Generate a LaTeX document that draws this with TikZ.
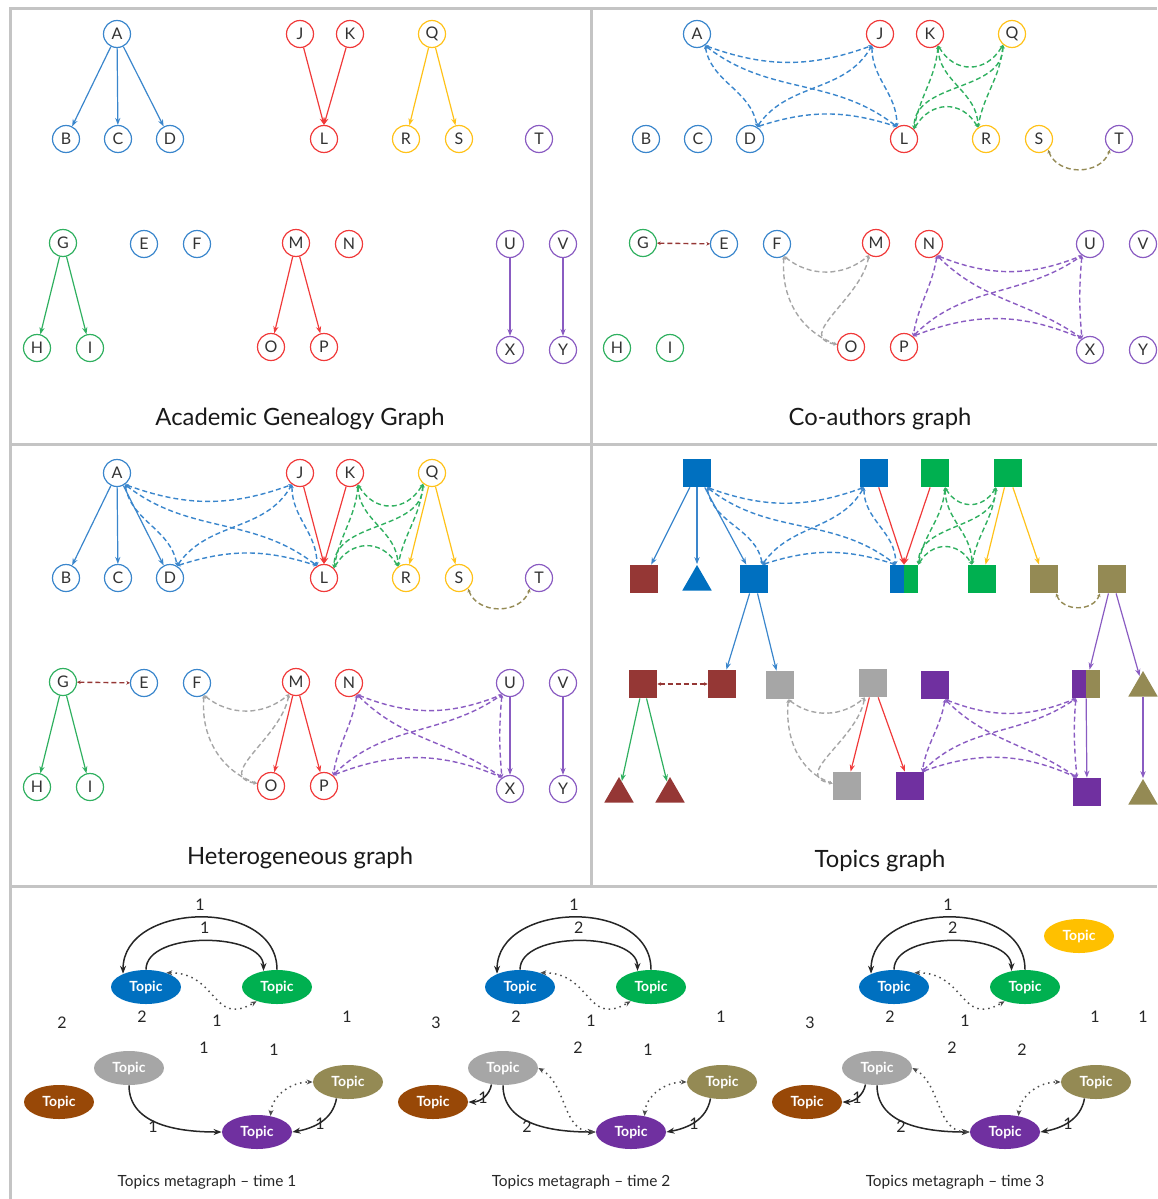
\documentclass[tikz,border=0pt]{standalone}
\usepackage{fontspec}
\setmainfont{Lato}
\usetikzlibrary{arrows.meta,shapes.geometric}

% colours of the author circles and their links
\definecolor{cblue}{HTML}{3A86CC}
\definecolor{cred}{HTML}{F03A3A}
\definecolor{cyellow}{HTML}{FFC21A}
\definecolor{cgreen}{HTML}{30B060}
\definecolor{cpurple}{HTML}{8A5CC2}
\definecolor{colive}{HTML}{948A54}
\definecolor{cbrown}{HTML}{953735}
\definecolor{cgrey}{HTML}{A6A6A6}
% colours of the topics
\definecolor{tblue}{HTML}{0070C0}
\definecolor{tgreen}{HTML}{00B050}
\definecolor{tpurple}{HTML}{7030A0}
\definecolor{torange}{HTML}{984807}
\definecolor{tyellow}{HTML}{FFC000}
\definecolor{panelline}{HTML}{C4C4C4}

\tikzset{
  author/.style={circle, draw, line width=0.6pt, minimum size=13.5pt, inner sep=0pt,
    fill=white, text=black!80, font=\fontsize{8}{9}\selectfont},
  advises/.style={-{Stealth[length=3.5pt,width=2.6pt]}, line width=0.6pt},
  coauth/.style={dash pattern=on 2.5pt off 1.5pt, line width=0.7pt,
    arrows={Stealth[length=1.8pt,width=1.8pt]-Stealth[length=1.8pt,width=1.8pt]}},
  topicsq/.style={rectangle, minimum size=14pt, inner sep=0pt},
  topictri/.style={regular polygon, regular polygon sides=3, minimum size=17pt, inner sep=0pt},
  halfsq/.style 2 args={topicsq, fill=#2, path picture={
    \fill[#1] (path picture bounding box.south west) rectangle (path picture bounding box.north);}},
  metatopic/.style={ellipse, minimum width=35pt, minimum height=17pt, inner sep=0pt,
    text=white, font=\bfseries\fontsize{7}{8}\selectfont},
  metaedge/.style={-{Stealth[length=4pt,width=3pt]}, line width=0.75pt, black!85},
  metadot/.style={dotted, line width=0.75pt, black!70,
    arrows={Stealth[length=3pt,width=2.5pt]-Stealth[length=3pt,width=2.5pt]}},
  weight/.style={text=black!85, font=\fontsize{8}{9}\selectfont},
  paneltitle/.style={text=black!90, font=\fontsize{11.9}{13}\selectfont},
  metacaption/.style={text=black!85, font=\fontsize{7.7}{9}\selectfont},
}

\begin{document}
\begin{tikzpicture}[x=0.5pt,y=-0.5pt]
  \useasboundingbox (0,0) rectangle (1157,1199);

  % PANEL FRAME
  \draw[panelline, line width=1.5pt] (10,1199) -- (10,8) -- (1157,8);
  \draw[panelline, line width=1.5pt] (591,8) -- (591,886);
  \draw[panelline, line width=1.5pt] (10,444) -- (1157,444);
  \draw[panelline, line width=1.5pt] (10,886) -- (1157,886);

  % AUTHORS: genealogy (g), co-authors (c), heterogeneous (h)
  \foreach \n/\x/\y/\col in {A/117/34/cblue, B/66/139/cblue, C/118/139/cblue, D/170/139/cblue,
      J/300/34/cred, K/350/34/cred, L/324/139/cred, Q/432/34/cyellow, R/406/139/cyellow,
      S/459/139/cyellow, T/539/139/cpurple, G/63/243/cgreen, E/144/244/cblue,
      F/197/244/cblue, M/296/243/cred, N/349/244/cred, O/271/347/cred, P/324/347/cred,
      U/510/244/cpurple, V/563/244/cpurple, H/37/348/cgreen, I/90/348/cgreen,
      X/510/350/cpurple, Y/563/350/cpurple}{
    \node[author, draw=\col] (g\n) at (\x,\y) {\n};
    \node[author, draw=\col] (c\n) at (\x+580,\y) {\n};
    \node[author, draw=\col] (h\n) at (\x,\y+439) {\n};
  }

  % TOPICS (t)
  \node[topicsq, fill=tblue]   (tA) at (697,473) {};
  \node[topicsq, fill=tblue]   (tJ) at (874,473) {};
  \node[topicsq, fill=tgreen]  (tK) at (935,473) {};
  \node[topicsq, fill=tgreen]  (tQ) at (1008,473) {};
  \node[topicsq, fill=cbrown]  (tB) at (644,579) {};
  \node[topictri, fill=tblue]  (tC) at (697,582) {};
  \node[topicsq, fill=tblue]   (tD) at (754,579) {};
  \node[halfsq={tblue}{tgreen}] (tL) at (904,579) {};
  \node[topicsq, fill=tgreen]  (tR) at (982,579) {};
  \node[topicsq, fill=colive]  (tS) at (1044,579) {};
  \node[topicsq, fill=colive]  (tT) at (1112,579) {};
  \node[topicsq, fill=cbrown]  (tG) at (643,684) {};
  \node[topicsq, fill=cbrown]  (tE) at (722,684) {};
  \node[topicsq, fill=cgrey]   (tF) at (780,685) {};
  \node[topicsq, fill=cgrey]   (tM) at (873,683) {};
  \node[topicsq, fill=tpurple] (tN) at (935,685) {};
  \node[halfsq={tpurple}{colive}] (tU) at (1086,684) {};
  \node[topictri, fill=colive] (tV) at (1143,688) {};
  \node[topictri, fill=cbrown] (tH) at (619,794) {};
  \node[topictri, fill=cbrown] (tI) at (670,794) {};
  \node[topicsq, fill=cgrey]   (tO) at (847,786) {};
  \node[topicsq, fill=tpurple] (tP) at (910,786) {};
  \node[topicsq, fill=tpurple] (tX) at (1087,792) {};
  \node[topictri, fill=colive] (tY) at (1143,796) {};

  % ADVISOR -> STUDENT
  \foreach \p in {g,h,t}{
    \draw[advises, cblue] (\p A) -- (\p B);
    \draw[advises, cblue] (\p A) -- (\p C);
    \draw[advises, cblue] (\p A) -- (\p D);
    \draw[advises, cred] (\p J) -- (\p L.north);
    \draw[advises, cred] (\p K) -- (\p L.north);
    \draw[advises, cyellow] (\p Q) -- (\p R);
    \draw[advises, cyellow] (\p Q) -- (\p S);
    \draw[advises, cgreen] (\p G) -- (\p H);
    \draw[advises, cgreen] (\p G) -- (\p I);
    \draw[advises, cred] (\p M) -- (\p O);
    \draw[advises, cred] (\p M) -- (\p P);
    \draw[advises, cpurple] (\p U) -- (\p X);
    \draw[advises, cpurple] (\p V) -- (\p Y);
  }
  \draw[advises, cblue] (tD) -- (tE);
  \draw[advises, cblue] (tD) -- (tF);
  \draw[advises, cpurple] (tT) -- (tU);
  \draw[advises, cpurple] (tT) -- (tV);

  % CO-AUTHORSHIP
  \foreach \p in {c,h,t}{
    % A, J, D, L
    \draw[coauth, cblue] (\p A.-55) to[bend right=20] (\p J.-125);
    \draw[coauth, cblue] (\p D.60) to[bend left=18] (\p L.120);
    \draw[coauth, cblue] (\p A.-55) to[out=-38,in=142] (\p L.120);
    \draw[coauth, cblue] (\p D.60) to[out=55,in=-120] (\p J.-125);
    \draw[coauth, cblue] (\p A.-55) to[out=-80,in=100] (\p D.60);
    \draw[coauth, cblue] (\p J.-125) to[out=-90,in=90] (\p L.120);
    % K, Q, L, R
    \draw[coauth, cgreen] (\p K.-55) to[out=-60,in=-120,looseness=1.3] (\p Q.-130);
    \draw[coauth, cgreen] (\p L.45) to[out=60,in=120,looseness=1.3] (\p R.125);
    \draw[coauth, cgreen] (\p K.-55) to[out=-90,in=90] (\p R.125);
    \draw[coauth, cgreen] (\p Q.-130) to[out=-90,in=90] (\p L.45);
    \draw[coauth, cgreen] (\p K.-55) to[out=-95,in=80] (\p L.45);
    \draw[coauth, cgreen] (\p Q.-130) to[out=-95,in=80] (\p R.125);
    % S, T and G, E
    \draw[coauth, colive] (\p S.-50) to[out=-70,in=-110,looseness=1.15] (\p T.-130);
    \draw[coauth, cbrown] (\p G) -- (\p E);
    % F, M, O
    \draw[coauth, cgrey] (\p F.-60) to[bend right=40] (\p M.-120);
    \draw[coauth, cgrey] (\p F.-60) to[out=-95,in=160] (\p O.170);
    \draw[coauth, cgrey] (\p M.-120) to[out=-100,in=170,looseness=1.2] (\p O.170);
    % N, U, P, X
    \draw[coauth, cpurple] (\p N.-55) to[bend right=22] (\p U.-125);
    \draw[coauth, cpurple] (\p P.50) to[bend left=22] (\p X.125);
    \draw[coauth, cpurple] (\p N.-55) to[out=-45,in=145] (\p X.125);
    \draw[coauth, cpurple] (\p P.50) to[out=45,in=-145] (\p U.-125);
    \draw[coauth, cpurple] (\p N.-55) to[out=-100,in=80] (\p P.50);
    \draw[coauth, cpurple] (\p U.-125) to[out=-95,in=95] (\p X.125);
  }

  % PANEL TITLES
  \node[paneltitle] (tgen) at (300,419) {Academic Genealogy Graph};
  \node[paneltitle] (tco)  at (880,419) {Co-authors graph};
  \node[paneltitle] (thet) at (300,858) {Heterogeneous graph};
  \node[paneltitle] (ttop) at (880,861) {Topics graph};

  % METAGRAPHS, one per time step
  \foreach \tm/\dx/\wo/\wi/\wg/\wA/\wB/\wE/\wF in
      {1/0/1/1/1/2/2/1/1, 2/374/1/2/2/3/2/2/1, 3/748/1/2/2/3/2/2/2}{
    \node[metatopic, fill=tblue]   (blue\tm)   at (146+\dx,987)  {Topic};
    \node[metatopic, fill=tgreen]  (green\tm)  at (277+\dx,987)  {Topic};
    \node[metatopic, fill=cgrey]   (grey\tm)   at (129+\dx,1068) {Topic};
    \node[metatopic, fill=torange] (orange\tm) at (59+\dx,1102)  {Topic};
    \node[metatopic, fill=colive]  (olive\tm)  at (348+\dx,1082) {Topic};
    \node[metatopic, fill=tpurple] (purple\tm) at (257+\dx,1132) {Topic};
    \draw[metaedge] (green\tm.north) to[out=90,in=90,looseness=1.2]
      node[weight, above] (wout\tm) {\wo} (blue\tm.150);
    \draw[metaedge] (blue\tm.north) to[out=90,in=90,looseness=0.85]
      node[weight, above] (win\tm) {\wi} (green\tm.130);
    \draw[metadot] (blue\tm.35) to[out=0,in=210,looseness=1.4] (green\tm.215);
    \draw[metaedge] (grey\tm.south) to[out=-90,in=180] (purple\tm.west);
    \node[weight] (wgp\tm) at (153+\dx,1127) {\wg};
    \draw[metaedge] (olive\tm.235) to[out=-100,in=10] (purple\tm.east);
    \node[weight] (wop\tm) at (320+\dx,1124) {1};
    \draw[metadot] (purple\tm.50) to[out=85,in=180] (olive\tm.west);
    % loose counts
    \node[weight] (na\tm) at (62+\dx,1023) {\wA};
    \node[weight] (nb\tm) at (142+\dx,1017) {\wB};
    \node[weight] (nc\tm) at (217+\dx,1021) {1};
    \node[weight] (nd\tm) at (347+\dx,1017) {1};
    \node[weight] (ne\tm) at (204+\dx,1048) {\wE};
    \node[weight] (nf\tm) at (274+\dx,1050) {\wF};
    \node[metacaption] (cap\tm) at (207+\dx,1182) {Topics metagraph -- time \tm};
  }
  \foreach \tm/\dx in {2/374,3/748}{
    \draw[metaedge] (grey\tm.235) to[out=-100,in=0] (orange\tm.east);
    \node[weight] (wgo\tm) at (109+\dx,1098) {1};
    \draw[metadot] (grey\tm.east) to[out=-30,in=180] (purple\tm.west);
  }
  \node[metatopic, fill=tyellow] (yellow3) at (1079,936) {Topic};
  \node[weight] (ng3) at (1143,1017) {1};
\end{tikzpicture}
\end{document}
